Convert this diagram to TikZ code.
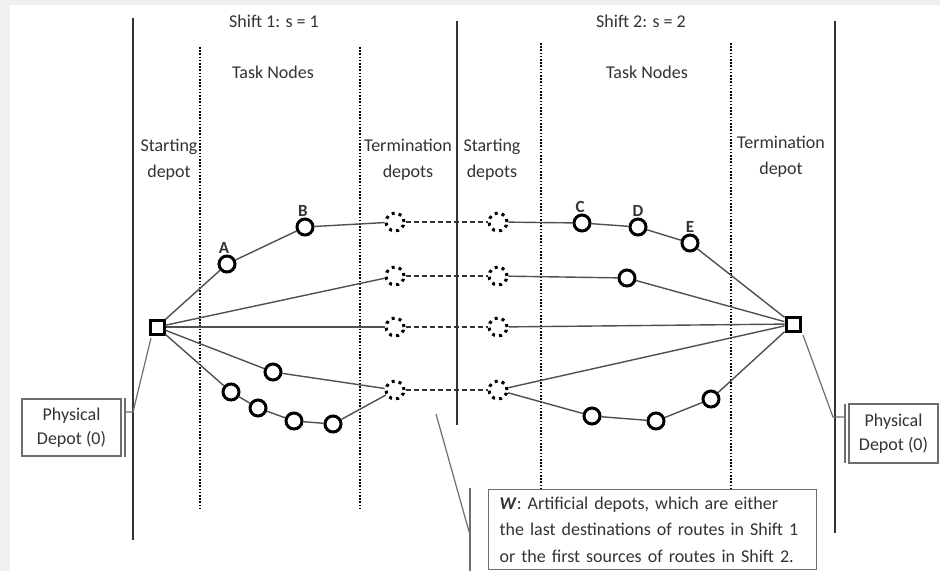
\documentclass[tikz,border=0pt]{standalone}
\usepackage{fontspec}
\setmainfont{Carlito}
\usetikzlibrary{positioning}

\definecolor{txtgray}{HTML}{333333}
\definecolor{linegray}{HTML}{505050}
\definecolor{boxgray}{HTML}{6E6E6E}
\definecolor{bggray}{HTML}{F0F0F0}

\tikzset{
  task/.style={circle,draw=black,line width=3pt,minimum size=16pt,inner sep=0pt},
  depot/.style={rectangle,draw=black,line width=3pt,minimum size=14pt,inner sep=0pt},
  artdepot/.style={circle,draw=black,line width=3pt,dash pattern=on 3pt off 4.2pt,minimum size=18pt,inner sep=0pt},
  tasklabel/.style={font=\fontsize{17}{17}\selectfont\bfseries,text=txtgray,inner sep=1pt},
  arc/.style={draw=linegray,line width=1.4pt},
  link/.style={draw=black!80,line width=1.1pt,dash pattern=on 5pt off 3pt},
  shiftline/.style={draw=txtgray,line width=1.4pt},
  colline/.style={draw=black,line width=2pt,dash pattern=on 1.6pt off 1.6pt},
  callbox/.style={draw=boxgray,line width=1.2pt,fill=white,align=center,font=\fontsize{18}{24}\selectfont},
  callline/.style={draw=boxgray,line width=1.2pt}
}

\begin{document}
\begin{tikzpicture}[x=1pt,y=-1pt,font=\fontsize{18}{26}\selectfont,text=txtgray]
\fill[bggray] (0,0) rectangle (940,571);
\fill[white] (10,5) rectangle (940,571);
\useasboundingbox (0,0) rectangle (940,571);

% shift borders and columns
\draw[shiftline] (133,18) -- (133,540);
\draw[shiftline] (457,21) -- (457,425);
\draw[shiftline] (835,21) -- (835,533);
\foreach \x/\ya/\yb in {200/47/508,360/47/508,541/43/489,731/43/489}
  \draw[colline] (\x,\ya) -- (\x,\yb);

% headings
\node (shift1) at (274,21) {Shift 1: s = 1};
\node (shift2) at (641,21) {Shift 2: s = 2};
\node (tasks1) at (273,72) {Task Nodes};
\node (tasks2) at (647,72) {Task Nodes};
\node[align=center] (startdep1) at (169,160) {Starting\\depot};
\node[align=center] (termdep1) at (408,160) {Termination\\depots};
\node[align=center] (startdep2) at (492,160) {Starting\\depots};
\node[align=center] (termdep2) at (781,157) {Termination\\depot};

% physical depot
\node[depot] (d0) at (157,327) {};
\node[depot] (d1) at (793,324) {};

% task nodes
\node[task,label={[tasklabel,xshift=-3pt]above:A}] (tA) at (227,264) {};
\node[task,label={[tasklabel,xshift=-2pt]above:B}] (tB) at (305,227) {};
\node[task,label={[tasklabel,xshift=-2pt]above:C}] (tC) at (582,223) {};
\node[task,label={[tasklabel]above:D}] (tD) at (638,227) {};
\node[task,label={[tasklabel]above:E}] (tE) at (690,243) {};
\node[task] (tF) at (627,278) {};
\node[task] (tG) at (273,372) {};
\node[task] (tH) at (231,392) {};
\node[task] (tI) at (258,408) {};
\node[task] (tJ) at (294,421) {};
\node[task] (tK) at (333,424) {};
\node[task] (tL) at (592,416) {};
\node[task] (tM) at (656,421) {};
\node[task] (tN) at (711,399) {};

% artificial depots W
\foreach \r/\y in {1/222,2/276,3/327,4/390}{
  \node[artdepot] (w\r a) at (395,\y) {};
  \node[artdepot] (w\r b) at (498,\y) {};
  \draw[link] (w\r a) -- (w\r b);
}

% routes
\draw[arc] (d0) -- (tA) -- (tB) -- (w1a);
\draw[arc] (w1b) -- (tC) -- (tD) -- (tE) -- (d1);
\draw[arc] (d0) -- (w2a);
\draw[arc] (w2b) -- (tF) -- (d1);
\draw[arc] (d0) -- (w3a);
\draw[arc] (w3b) -- (d1);
\draw[arc] (d0) -- (tG) -- (w4a);
\draw[arc] (d0) -- (tH) -- (tI) -- (tJ) -- (tK) -- (w4a);
\draw[arc] (w4b) -- (d1);
\draw[arc] (w4b) -- (tL) -- (tM) -- (tN) -- (d1);

% callouts
\node[callbox,minimum width=99pt,minimum height=57pt] (phys0a) at (71.5,427.5) {Physical\\Depot (0)};
\coordinate (barLtop) at (125,398);
\coordinate (barLbot) at (125,457);
\coordinate (barLmid) at (125,412);
\coordinate (kneeL) at (133,412);
\coordinate (tipL) at (151,338);
\draw[callline] (barLtop) -- (barLbot);
\draw[callline] (barLmid) -- (kneeL) -- (tipL);

\node[callbox,minimum width=89pt,minimum height=59pt] (phys0b) at (893.5,433.5) {Physical\\Depot (0)};
\coordinate (barRtop) at (845,404);
\coordinate (barRbot) at (845,463);
\coordinate (barRmid) at (845,417);
\coordinate (kneeR) at (833,417);
\coordinate (tipR) at (803,335);
\draw[callline] (barRtop) -- (barRbot);
\draw[callline] (barRmid) -- (kneeR) -- (tipR);

\node[callbox,anchor=north west,minimum width=328pt,minimum height=80pt,text width=306pt,align=left,inner xsep=11pt,font=\fontsize{18}{26.5}\selectfont] (wnote) at (488,489)
  {\textbf{\textit{W}}: Artificial depots, which are either\\the last destinations of routes in Shift 1\\or the first sources of routes in Shift 2.};
\coordinate (barWtop) at (470,488);
\coordinate (barWbot) at (470,571);
\coordinate (barWmid) at (470,535);
\coordinate (tipW) at (436,414);
\draw[callline] (barWtop) -- (barWbot);
\draw[callline] (barWmid) -- (tipW);
\end{tikzpicture}
\end{document}
